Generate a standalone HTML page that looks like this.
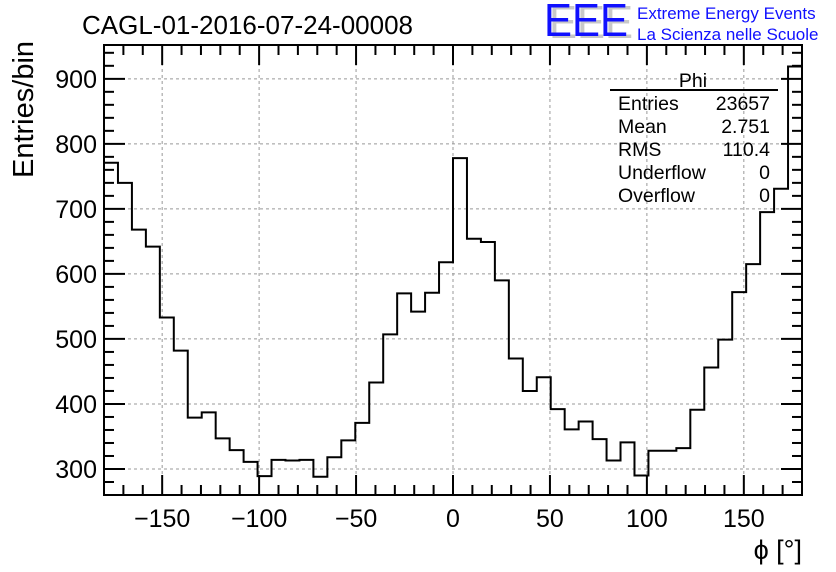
<!DOCTYPE html>
<html><head><meta charset="utf-8"><style>
html,body{margin:0;padding:0;background:#fff;}
svg{display:block;font-family:"Liberation Sans",sans-serif;}
</style></head><body>
<svg id="chart" width="836" height="572" viewBox="0 0 836 572" xmlns="http://www.w3.org/2000/svg">
<rect width="836" height="572" fill="#fff"/>
<text x="82" y="34" font-size="26">CAGL-01-2016-07-24-00008</text>
<g>
<text x="549" y="38" font-size="46" fill="#c8c8c8" textLength="84" lengthAdjust="spacingAndGlyphs">EEE</text>
<text x="544" y="36" font-size="46" fill="#1010ff" textLength="84" lengthAdjust="spacingAndGlyphs">EEE</text>
<text x="637" y="19" font-size="17" fill="#1010ff">Extreme Energy Events</text>
<text x="637" y="40" font-size="17" fill="#1010ff">La Scienza nelle Scuole</text>
</g>
<g id="grid"></g>
<g id="ticks"></g>
<path id="hist" fill="none" stroke="#000" stroke-width="2"/>
<rect x="104" y="45" width="698" height="450" fill="none" stroke="#000" stroke-width="2"/>
<g font-size="19.5">
<text x="693" y="87" text-anchor="middle">Phi</text>
<line x1="610" y1="90" x2="778" y2="90" stroke="#000" stroke-width="2"/>
<text x="618" y="110">Entries</text><text x="770" y="110" text-anchor="end">23657</text>
<text x="618" y="133">Mean</text><text x="770" y="133" text-anchor="end">2.751</text>
<text x="618" y="156">RMS</text><text x="770" y="156" text-anchor="end">110.4</text>
<text x="618" y="179">Underflow</text><text x="770" y="179" text-anchor="end">0</text>
<text x="618" y="202">Overflow</text><text x="770" y="202" text-anchor="end">0</text>
</g>
<text transform="translate(33,178) rotate(-90)" font-size="29">Entries/bin</text>
<text x="802" y="559" text-anchor="end" font-size="27">ϕ [°]</text>
</svg>
<script>
const counts = [771,740,668,642,533,482,379,387,347,329,311,289,314,313,314,288,318,344,371,433,507,570,542,571,618,778,654,649,590,470,420,441,392,361,373,346,313,341,290,328,328,332,391,456,499,572,615,695,731,919];
const xMin = -180, xMax = 180;
const yMin = 260, yMax = 952;
const xTickLabels = [-150,-100,-50,0,50,100,150];
const yTickLabels = [300,400,500,600,700,800,900];
const L=104,R=802,T=45,B=495;
const xs=v=>L+(v-xMin)/(xMax-xMin)*(R-L);
const ys=v=>B-(v-yMin)/(yMax-yMin)*(B-T);
const NS="http://www.w3.org/2000/svg";
const grid=document.getElementById('grid'), ticks=document.getElementById('ticks');
function ln(p,x1,y1,x2,y2,st,w,dash){const l=document.createElementNS(NS,'line');l.setAttribute('x1',x1);l.setAttribute('y1',y1);l.setAttribute('x2',x2);l.setAttribute('y2',y2);l.setAttribute('stroke',st);l.setAttribute('stroke-width',w);if(dash)l.setAttribute('stroke-dasharray',dash);p.appendChild(l);return l;}
function tx(x,y,s,anchor){const t=document.createElementNS(NS,'text');t.setAttribute('x',x);t.setAttribute('y',y);t.setAttribute('font-size','25');t.setAttribute('text-anchor',anchor);t.textContent=s;ticks.appendChild(t);return t;}
xTickLabels.forEach(v=>{const x=xs(v);
const g=ln(grid,x,T,x,B,'#999',1,'3,3');


const t=tx(x,527,String(v).replace('-','\u2212'),'middle');

});
yTickLabels.forEach(v=>{const y=ys(v);
const g=ln(grid,L,y,R,y,'#999',1,'3,3');


const t=tx(97,y+9,String(v),'end');

});
for(let v=-180;v<=180;v+=10){const x=xs(v);const len=(v%50===0)?20:10;
ln(ticks,x,B,x,B-len,'#000',2);ln(ticks,x,T,x,T+len,'#000',2);}
for(let v=280;v<=940;v+=20){const y=ys(v);const len=(v%100===0)?21:10;
ln(ticks,L,y,L+len,y,'#000',2);ln(ticks,R,y,R-len,y,'#000',2);}
const w=(xMax-xMin)/counts.length;
let d='M'+xs(xMin)+','+B;
counts.forEach((c,i)=>{d+=' L'+xs(xMin+i*w)+','+ys(c)+' L'+xs(xMin+(i+1)*w)+','+ys(c);});
d+=' L'+xs(xMax)+','+B;
document.getElementById('hist').setAttribute('d',d);
</script>
</body></html>
